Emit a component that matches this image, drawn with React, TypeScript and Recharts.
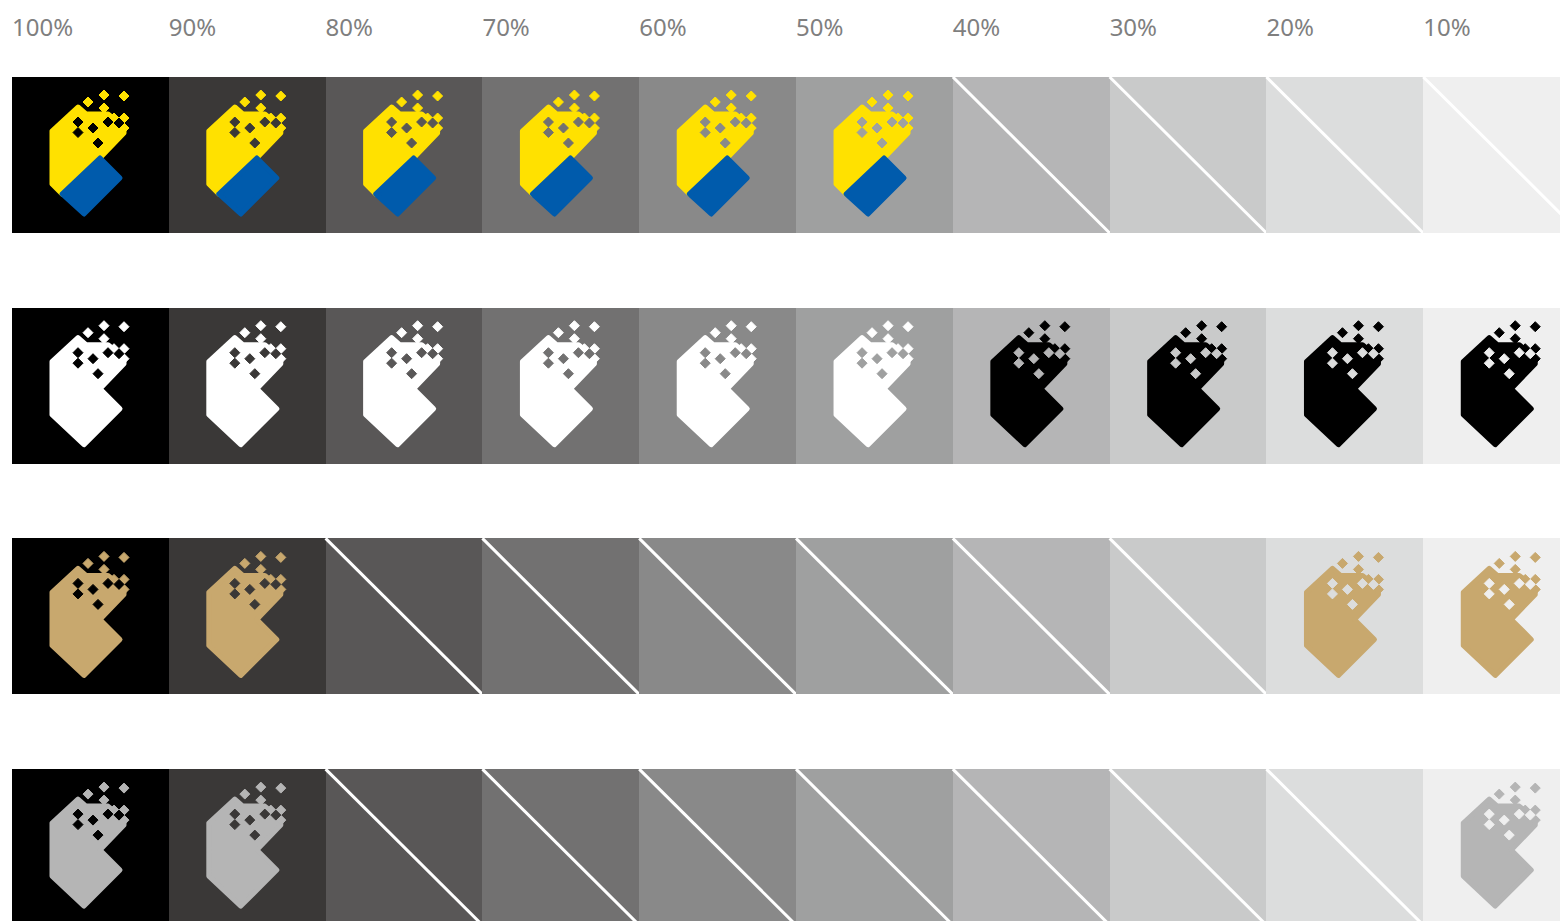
import React from "react";
import { ScatterChart, Scatter, XAxis, YAxis } from "recharts";

// tint columns, left to right
const tintLabels = ["100%", "90%", "80%", "70%", "60%", "50%", "40%", "30%", "20%", "10%"];
const tintColors = [
  "#000000", "#3a3837", "#595757", "#727171", "#898989",
  "#9fa0a0", "#b5b5b6", "#c9caca", "#dcdddd", "#efefef",
];

// which mark sits on each tint ("none" = not allowed, crossed out)
const fullColorRow = ["color", "color", "color", "color", "color", "color", "none", "none", "none", "none"];
const monoRow = ["white", "white", "white", "white", "white", "white", "black", "black", "black", "black"];
const goldRow = ["gold", "gold", "none", "none", "none", "none", "none", "none", "gold", "gold"];
const silverRow = ["silver", "silver", "none", "none", "none", "none", "none", "none", "none", "silver"];

const rows = [fullColorRow, monoRow, goldRow, silverRow];

const cells = rows.flatMap((marks, row) =>
  marks.map((mark, col) => ({ col, row, tint: tintColors[col], mark }))
);

const WIDTH = 1560;
const HEIGHT = 921;
const LEFT = 12;
const TOP = 77;
const X_MAX = 9.872;
const Y_MAX = 3.6584;
const CELL_W = (WIDTH - LEFT) / X_MAX;
const CELL_H = 156;

const YELLOW = "#ffe100";
const BLUE = "#005bac";
const markColors: Record<string, string> = {
  white: "#ffffff",
  black: "#000000",
  gold: "#c8a86e",
  silver: "#b5b5b5",
};

// logo outline in a 156px box
const BODY = "40,54 66,30 74,37 96,37 106,45 112,50 112,56 88,81 108,101 72,137 40,107";
const UPPER = "40,54 66,30 74,37 96,37 106,45 112,50 112,56 88,81 50,117 40,107";
const LOWER = "88,81 108,101 72,137 50,117";
const dots = [[76, 25], [92, 18], [112, 19], [92, 31], [102, 41], [112, 41], [112, 51]];
const holes = [[66, 45], [66, 55.5], [81, 51], [96, 45], [107, 46], [86, 66]];

const diamond = (x: number, y: number, h: number) =>
  `M${x},${y - h}L${x + h},${y}L${x},${y + h}L${x - h},${y}Z`;

function Logo({ mark, bg }: { mark: string; bg: string }) {
  const main = mark === "color" ? YELLOW : markColors[mark];
  return (
    <g>
      {mark === "color" ? (
        <>
          <polygon points={UPPER} fill={YELLOW} stroke={YELLOW} strokeWidth={5} strokeLinejoin="round" />
          <polygon points={LOWER} fill={BLUE} stroke={BLUE} strokeWidth={5} strokeLinejoin="round" />
        </>
      ) : (
        <polygon points={BODY} fill={main} stroke={main} strokeWidth={5} strokeLinejoin="round" />
      )}
      {dots.map(([x, y], i) => (
        <path key={"d" + i} d={diamond(x, y, 5)} fill={main} stroke={main} strokeWidth={1} strokeLinejoin="round" />
      ))}
      {holes.map(([x, y], i) => (
        <path key={"h" + i} d={diamond(x, y, 5)} fill={bg} stroke={bg} strokeWidth={1} strokeLinejoin="round" />
      ))}
    </g>
  );
}

function CellShape(props: any) {
  const { cx, cy, payload } = props;
  if (cx == null || cy == null) return null;
  return (
    <g transform={`translate(${cx},${cy})`}>
      <rect x={0} y={0} width={CELL_W + 0.5} height={CELL_H} fill={payload.tint} shapeRendering="crispEdges" />
      {payload.mark === "none" ? (
        <line x1={0} y1={0} x2={CELL_W} y2={CELL_H} stroke="#ffffff" strokeWidth={3} />
      ) : (
        <Logo mark={payload.mark} bg={payload.tint} />
      )}
    </g>
  );
}

function HeaderTick(props: any) {
  const { x, y, payload } = props;
  return (
    <text
      x={x}
      y={y}
      dy={-33}
      textAnchor="start"
      fill="#7f7f7f"
      fontSize={24}
      fontFamily="'Noto Sans', sans-serif"
    >
      {tintLabels[payload.value]}
    </text>
  );
}

export default function App() {
  return (
    <div style={{ width: WIDTH, height: HEIGHT, background: "#ffffff" }}>
      <style>{`body{margin:0;overflow:hidden}`}</style>
      <ScatterChart width={WIDTH} height={HEIGHT} margin={{ top: 0, right: 0, bottom: 0, left: LEFT }}>
        <XAxis
          type="number"
          dataKey="col"
          orientation="top"
          height={TOP}
          domain={[0, X_MAX]}
          allowDataOverflow
          ticks={[0, 1, 2, 3, 4, 5, 6, 7, 8, 9]}
          interval={0}
          axisLine={false}
          tickLine={false}
          tick={<HeaderTick />}
        />
        <YAxis type="number" dataKey="row" hide reversed domain={[0, Y_MAX]} allowDataOverflow />
        <Scatter data={cells} shape={<CellShape />} isAnimationActive={false} />
      </ScatterChart>
    </div>
  );
}
